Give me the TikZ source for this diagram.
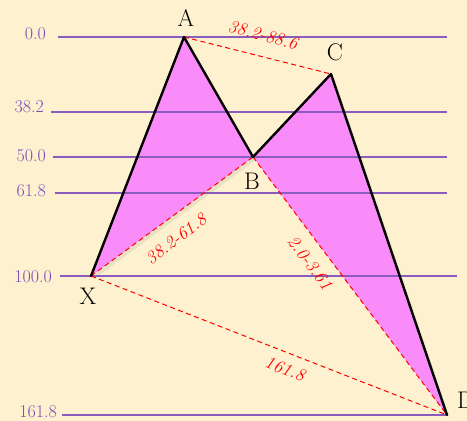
\documentclass[tikz,border=0pt]{standalone}
\usepackage{fontspec}
\setmainfont{Latin Modern Roman}
\usetikzlibrary{shadows}
\definecolor{bg}{HTML}{FDF1CF}
\definecolor{lvl}{HTML}{8A5CC0}
\definecolor{lvltxt}{HTML}{7B4DB8}
\definecolor{wing}{HTML}{FA8CFA}
\tikzset{
  level/.style={draw=lvl, line width=1.1pt},
  lvllabel/.style={text=lvltxt, font=\fontsize{18}{18}\selectfont, anchor=east, inner sep=0pt},
  leg/.style={draw=black, line width=2.4pt, line cap=round, line join=round},
  ratio/.style={draw=red, line width=1pt, dash pattern=on 5pt off 3.5pt},
  ratiotxt/.style={text=red, font=\fontsize{18}{18}\selectfont\itshape, inner sep=1pt},
  pt/.style={font=\fontsize{24}{24}\selectfont, inner sep=0pt},
  wingfill/.style={fill=wing, drop shadow={shadow xshift=3pt, shadow yshift=-3pt, opacity=0.15}}
}
\begin{document}
\begin{tikzpicture}[x=1pt, y=-1pt]
\fill[bg] (0,0) rectangle (467,421);
\useasboundingbox (0,0) rectangle (467,421);
% points
\coordinate (A) at (184,37);
\coordinate (B) at (253,157);
\coordinate (C) at (331,74);
\coordinate (X) at (91,276);
\coordinate (D) at (447,415);
% levels
\coordinate (l0s) at (58,37);   \coordinate (l0e) at (447,37);
\coordinate (l1s) at (51,112);  \coordinate (l1e) at (447,112);
\coordinate (l2s) at (53,157);  \coordinate (l2e) at (447,157);
\coordinate (l3s) at (55,193);  \coordinate (l3e) at (447,193);
\coordinate (l4s) at (60,276);  \coordinate (l4e) at (457,276);
\coordinate (l5s) at (62,415);  \coordinate (l5e) at (447,415);
% wings
\path[wingfill] (X) -- (A) -- (B) -- cycle;
\path[wingfill] (B) -- (C) -- (D) -- cycle;
\draw[level] (l0s) -- (l0e);
\draw[level] (l1s) -- (l1e);
\draw[level] (l2s) -- (l2e);
\draw[level] (l3s) -- (l3e);
\draw[level] (l4s) -- (l4e);
\draw[level] (l5s) -- (l5e);
\node[lvllabel] (t0) at (46,34) {0.0};
\node[lvllabel] (t1) at (44,107) {38.2};
\node[lvllabel] (t2) at (46,156) {50.0};
\node[lvllabel] (t3) at (46,191) {61.8};
\node[lvllabel] (t4) at (52,277) {100.0};
\node[lvllabel] (t5) at (57,412) {161.8};
% ratio lines
\draw[ratio] (A) -- (C);
\draw[ratio] (X) -- (B);
\draw[ratio] (B) -- (D);
\draw[ratio] (X) -- (D);
% legs
\draw[leg] (X) -- (A) -- (B) -- (C) -- (D);
% point labels
\node[pt] (lA) at (186,18) {A};
\node[pt] (lB) at (252,181) {B};
\node[pt] (lC) at (335,52) {C};
\node[pt] (lX) at (88,296) {X};
\node[pt, anchor=west] (lD) at (457,400) {D};
% ratio labels
\node[ratiotxt, rotate=-15] (rAC) at (263,35) {38.2-88.6};
\node[ratiotxt, rotate=37] (rXB) at (176,239) {38.2-61.8};
\node[ratiotxt, rotate=-53] (rBD) at (310,263) {2.0-3.61};
\node[ratiotxt, rotate=-21] (rXD) at (285,369) {161.8};
\end{tikzpicture}
\end{document}
